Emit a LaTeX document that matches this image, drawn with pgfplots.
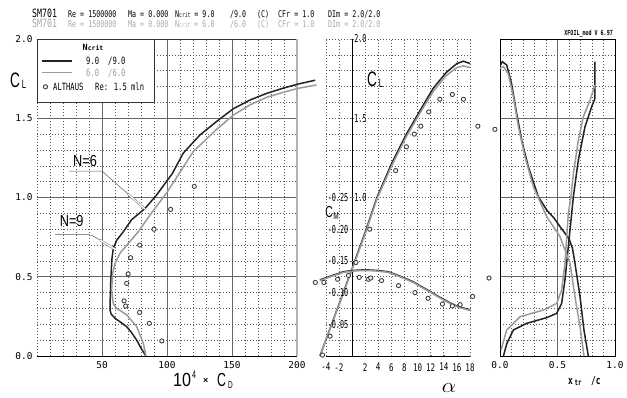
\documentclass[border=0pt]{standalone}
\usepackage{fontspec}
\setmainfont{DejaVu Sans Mono}
\newfontfamily\xf[FakeStretch=0.72]{DejaVu Sans Mono}
\newfontfamily\xc[FakeStretch=0.62]{DejaVu Sans Mono}
\newfontfamily\lab{Liberation Sans}
\usepackage{graphicx}
\usepackage{pgfplots}
\pgfplotsset{compat=1.18}
\definecolor{dk}{HTML}{222222}
\definecolor{gr}{HTML}{9A9A9A}
\definecolor{hg}{HTML}{A8A8A8}
\definecolor{gridc}{HTML}{666666}
\newcommand{\cond}[3][0.65]{\scalebox{#1}[1]{\lab\fontsize{#2}{#2}\selectfont #3}}
\tikzset{mydot/.style={dash pattern=on 0.8bp off 2.2bp, line width=0.6bp, draw=black!65}}
\pgfplotsset{
  blk/.style={dk, line width=1.5bp, no markers},
  gry/.style={gr, line width=1.5bp, no markers},
  alt/.style={only marks, mark=*, mark size=2.1bp, mark options={fill=white, draw=black!75, line width=0.9bp}},
}
\begin{document}
\begin{tikzpicture}
\path[use as bounding box] (0,0) rectangle (627bp,-398bp);

% ---------------- Panel 1: drag polar ----------------
\begin{axis}[at={(37bp,-356bp)}, anchor=south west, scale only axis,
  width=260bp, height=317bp, xmin=0, xmax=200, ymin=0, ymax=2, clip=false,
  axis line style={draw=none},
  xtick={50,100,150,200}, xticklabels={50,100,150,200},
  ytick={0,0.5,1,1.5,2}, yticklabels={0.0,0.5,1.0,1.5,2.0},
  minor xtick={10,20,30,40,60,70,80,90,110,120,130,140,160,170,180,190},
  minor ytick={0.1,0.2,0.3,0.4,0.6,0.7,0.8,0.9,1.1,1.2,1.3,1.4,1.6,1.7,1.8,1.9},
  grid=both, major grid style={solid, line width=0.6bp, draw=gridc},
  minor grid style={mydot},
  major tick length=0pt, minor tick length=0pt,
  tick label style={font=\fontsize{9.5}{9.5}\selectfont},
  xticklabel style={yshift=-2bp},
  yticklabel style={xshift=-1bp},
]
\draw[mydot] (axis cs:0,0) -- (axis cs:0,1.6);
\fill[white] (axis cs:0,1.6) rectangle (axis cs:90,2);
\draw[black!80, line width=0.8bp] (axis cs:0,1.6) -- (axis cs:90,1.6) -- (axis cs:90,2);
\draw[black!80, line width=0.6bp] (axis cs:0,1.6) -- (axis cs:0,2);
\draw[black!80, line width=0.8bp] (axis cs:0,2) -- (axis cs:200,2);
\draw[black!30, line width=1.5bp] (axis cs:200,0) -- (axis cs:200,2);
\draw[black, line width=1bp] (axis cs:0,0) -- (axis cs:200,0);
\addplot[blk] coordinates {
(83.8,0.00) (80.0,0.05) (76.7,0.10) (72.5,0.15) (69.0,0.185) (64.0,0.215)
(60.0,0.238) (57.0,0.265) (56.2,0.29) (56.2,0.33) (56.5,0.40) (56.7,0.46)
(57.2,0.55) (57.6,0.61) (58.7,0.68) (61.3,0.73) (66.4,0.784) (72.8,0.86)
(83.0,0.93) (92.0,1.016) (104.0,1.15) (112.5,1.28) (125.4,1.395) (138.2,1.48)
(151.0,1.56) (163.8,1.615) (176.7,1.657) (189.5,1.69) (201.0,1.716) (214.0,1.74)};
\addplot[gry] coordinates {
(83.8,0.00) (81.8,0.08) (76.7,0.185) (69.0,0.26) (61.3,0.30) (58.7,0.33)
(57.4,0.416) (58.2,0.52) (60.0,0.584) (63.8,0.648) (70.2,0.71) (77.9,0.784)
(87.0,0.89) (99.8,1.03) (110.0,1.16) (120.2,1.29) (138.2,1.43) (151.0,1.52)
(163.8,1.584) (176.7,1.632) (189.5,1.664) (201.0,1.689) (215.0,1.71)};
\addplot[alt] coordinates {
(96,0.095) (86.4,0.206) (78.9,0.275) (68.2,0.315) (67.0,0.348) (69,0.458)
(70.1,0.518) (72,0.62) (79.0,0.70) (90,0.80) (102.8,0.925) (121,1.07)};
\end{axis}

% ---------------- Panel 2: CL vs alpha ----------------
\begin{axis}[at={(325.8bp,-356bp)}, anchor=south west, scale only axis,
  width=144.2bp, height=317bp, xmin=-4, xmax=18, ymin=0, ymax=2, clip=false,
  axis x line=bottom, axis y line=middle,
  axis line style={-, black, line width=0.9bp},
  xtick={-4,-2,0,2,4,6,8,10,12,14,16,18},
  xticklabels={-4,-2,,2,4,6,8,10,12,14,16,18},
  ytick={1,1.5,2}, yticklabels={1.0,1.5,2.0},
  minor ytick={0.1,0.2,0.3,0.4,0.5,0.6,0.7,0.8,0.9,1.1,1.2,1.3,1.4,1.6,1.7,1.8,1.9},
  grid=both, major grid style={mydot}, minor grid style={mydot},
  major tick length=2.5bp, minor tick length=0pt, tick align=center,
  x tick label style={font=\xf\fontsize{10.5}{10.5}\selectfont, yshift=-2.5bp},
  y tick label style={font=\xc\fontsize{11}{11}\selectfont, anchor=west, xshift=0bp},
]
\draw[mydot] (axis cs:-4,2) -- (axis cs:18,2);
\addplot[blk] coordinates {
(-4.9,0.0) (-4,0.10) (-2,0.325) (0,0.55) (2,0.78) (3.8,1.0) (6.05,1.215)
(8.3,1.40) (10.4,1.55) (12.4,1.69) (14.4,1.79) (16,1.845) (17,1.86) (18,1.845)};
\addplot[gry] coordinates {
(-4.9,0.0) (-4,0.10) (-2,0.32) (0,0.545) (2,0.77) (3.8,0.99) (6.05,1.20)
(8.3,1.385) (10.4,1.535) (12.4,1.67) (14.4,1.77) (16,1.82) (17,1.83) (18,1.82)};
\addplot[alt] coordinates {
(-4.5,0.006) (-3.35,0.125) (0.6,0.59) (2.7,0.80) (6.66,1.17) (8.3,1.32)
(9.5,1.40) (10.5,1.45) (11.7,1.54) (13.4,1.62) (15.3,1.65) (17.0,1.62)
(19.2,1.45) (21.8,1.43)};
\end{axis}

% ---------------- Panel 2: CM vs alpha ----------------
\begin{axis}[at={(325.8bp,-356bp)}, anchor=south west, scale only axis,
  width=144.2bp, height=317bp, xmin=-4, xmax=18, ymin=-0.5, ymax=0, y dir=reverse,
  clip=false, axis x line=none, axis y line=middle,
  axis line style={draw=none},
  xtick=\empty,
  ytick={-0.25,-0.2,-0.15,-0.1,-0.05}, yticklabels={-0.25,-0.20,-0.15,-0.10,-0.05},
  major tick length=2.5bp, tick align=center,
  y tick label style={font=\xc\fontsize{11}{11}\selectfont, xshift=1bp},
]
\addplot[blk] coordinates {
(-4.9,-0.120) (-3.0,-0.127) (-1.3,-0.133) (0.2,-0.135) (2.0,-0.136) (3.8,-0.135)
(5.5,-0.133) (6.8,-0.128) (8.0,-0.123) (9.35,-0.117) (10.5,-0.110) (11.9,-0.102)
(13.0,-0.095) (14.4,-0.087) (15.5,-0.081) (16.5,-0.077) (18.0,-0.073)};
\addplot[gry] coordinates {
(-4.9,-0.119) (-3.0,-0.126) (-1.3,-0.132) (0.2,-0.134) (2.0,-0.135) (3.8,-0.134)
(5.5,-0.132) (6.8,-0.127) (8.0,-0.122) (9.35,-0.116) (10.5,-0.109) (11.9,-0.101)
(13.0,-0.094) (14.4,-0.086) (15.5,-0.080) (16.5,-0.076) (18.0,-0.072)};
\addplot[alt] coordinates {
(-5.6,-0.116) (-4.3,-0.116) (-2.2,-0.121) (-0.55,-0.127) (1.1,-0.124) (2.5,-0.121)
(2.85,-0.123) (4.5,-0.119) (7.1,-0.111) (9.6,-0.100) (11.6,-0.091) (13.8,-0.082)
(15.3,-0.079) (16.5,-0.081) (18.4,-0.094) (20.9,-0.123)};
\end{axis}

% ---------------- Panel 3: transition ----------------
\begin{axis}[at={(500bp,-356bp)}, anchor=south west, scale only axis,
  width=115bp, height=317bp, xmin=0, xmax=1, ymin=0, ymax=2,
  axis line style={black, line width=0.8bp},
  xtick={0,0.5,1}, xticklabels={0.0,0.5,1.0},
  ytick={0.5,1,1.5}, yticklabels={},
  minor xtick={0.1,0.2,0.3,0.4,0.6,0.7,0.8,0.9},
  minor ytick={0.1,0.2,0.3,0.4,0.6,0.7,0.8,0.9,1.1,1.2,1.3,1.4,1.6,1.7,1.8,1.9},
  grid=both, major grid style={solid, line width=0.6bp, draw=gridc},
  minor grid style={mydot},
  major tick length=0pt, minor tick length=0pt,
  tick label style={font=\fontsize{9.5}{9.5}\selectfont},
  xticklabel style={yshift=-2bp},
]
\addplot[blk] coordinates {
(0.00,1.83) (0.02,1.857) (0.058,1.836) (0.10,1.72) (0.145,1.53) (0.189,1.36)
(0.246,1.195) (0.333,1.005) (0.406,0.921) (0.47,0.87) (0.522,0.816) (0.60,0.74)
(0.63,0.68) (0.652,0.584) (0.696,0.374) (0.73,0.164) (0.768,0.0)};
\addplot[blk] coordinates {
(0.03,0.0) (0.06,0.08) (0.116,0.164) (0.232,0.206) (0.406,0.242) (0.493,0.269)
(0.536,0.332) (0.565,0.48) (0.594,0.69) (0.638,1.005) (0.681,1.236) (0.739,1.446)
(0.797,1.573) (0.826,1.625) (0.826,1.857)};
\addplot[gry] coordinates {
(0.00,1.815) (0.03,1.826) (0.072,1.78) (0.116,1.636) (0.16,1.446) (0.217,1.257)
(0.29,1.068) (0.406,0.879) (0.522,0.753) (0.609,0.584) (0.652,0.374) (0.70,0.164)
(0.73,0.0)};
\addplot[gry] coordinates {
(0.01,0.04) (0.058,0.164) (0.174,0.248) (0.377,0.29) (0.493,0.332) (0.536,0.416)
(0.565,0.584) (0.594,0.90) (0.617,1.005) (0.638,1.15) (0.681,1.36) (0.725,1.51)
(0.783,1.615) (0.826,1.71)};
\end{axis}

% ---------------- Text and annotations (px coordinates) ----------------
\begin{scope}[x=1bp, y=-1bp]
% header
\node[anchor=base west, inner sep=0, font=\xf\fontsize{11.5}{11.5}\selectfont] at (32,17) {SM701};
\node[anchor=base west, inner sep=0, font=\xf\fontsize{11.5}{11.5}\selectfont, hg] at (32,27) {SM701};
\foreach \yy/\cc/\nn in {17/black/9.0, 27/hg/6.0}{
  \begin{scope}[every node/.style={anchor=base west, inner sep=0, font=\xf\fontsize{9.3}{9.3}\selectfont, text=\cc}]
  \node at (68,\yy) {Re = 1500000};
  \node at (128,\yy) {Ma = 0.000};
  \node at (175,\yy) {N{\fontsize{6.5}{6.5}\selectfont crit} = \nn};
  \node at (230,\yy) {/\nn};
  \node at (257,\yy) {(C)};
  \node at (278,\yy) {CFr = 1.0};
  \node at (328,\yy) {DIm = 2.0/2.0};
  \end{scope}
}
\node[anchor=base east, inner sep=0, font=\xf\bfseries\fontsize{7}{7}\selectfont] at (613,35) {XFOIL\_mod V 6.97};

% legend
\node[anchor=base, inner sep=0, font=\bfseries\fontsize{8.5}{8.5}\selectfont] at (93,50) {N{\fontsize{6.5}{6.5}\selectfont crit}};
\draw[dk, line width=1.5bp] (41.7,61) -- (71.7,61);
\draw[gr, line width=1.5bp] (41.7,72.3) -- (71.7,72.3);
\begin{scope}[every node/.style={anchor=base west, inner sep=0, font=\xf\fontsize{10}{10}\selectfont}]
\node at (86,64.5) {9.0};
\node at (108,64.5) {/9.0};
\node[text=gr] at (86,76) {6.0};
\node[text=gr] at (108,76) {/6.0};
\node at (53,90.5) {ALTHAUS};
\node at (95,90.5) {Re: 1.5 mln};
\end{scope}
\draw[fill=white, draw=black!75, line width=0.9bp] (45.5,86.8) circle (2.1bp);

% axis labels
\node[inner sep=0] at (15,80) {\cond{21}{C}};
\node[inner sep=0] at (24,84) {\cond{12}{L}};
\node[inner sep=0] at (372,79) {\cond{21}{C}};
\node[inner sep=0] at (381,83) {\cond{12}{L}};
\node[inner sep=0] at (329,212) {\cond{16}{C}};
\node[inner sep=0] at (336,216) {\cond{10}{M}};
\node[inner sep=0] at (449,388) {\cond[1.1]{20}{$\alpha$}};
\node[inner sep=0, anchor=base west] at (173,386) {\cond[0.85]{19}{10}};
\node[inner sep=0, anchor=base west] at (192,378) {\cond{11}{4}};
\node[inner sep=0, anchor=base west] at (203,383) {\cond[1]{9}{\textbf{×}}};
\node[inner sep=0, anchor=base west] at (217,386) {\cond{19}{C}};
\node[inner sep=0, anchor=base west] at (228,388) {\cond{10}{D}};
\node[inner sep=0, anchor=base west] at (568,384) {\xf\bfseries\fontsize{11}{11}\selectfont x};
\node[inner sep=0, anchor=base west] at (574.5,385.5) {\xf\bfseries\fontsize{8}{8}\selectfont tr};
\node[inner sep=0, anchor=base west] at (591,384) {\xf\bfseries\fontsize{11}{11}\selectfont /c};

% N=6 / N=9 annotations
\node[inner sep=0] at (85,161) {\cond[0.8]{16}{N=6}};
\draw[black!65, line width=0.5bp] (69,171) -- (102,171) -- (128,194);
\draw[black!65, line width=0.4bp, double=white, double distance=1.3bp] (128,194) -- (145,209);
\node[inner sep=0] at (71.7,221) {\cond[0.8]{16}{N=9}};
\draw[black!65, line width=0.5bp] (55,234.3) -- (87,234.3) -- (92,235.5) -- (100,240);
\draw[black!65, line width=0.4bp, double=white, double distance=1.3bp] (100,240) -- (115,249.3);
\end{scope}
\end{tikzpicture}
\end{document}
